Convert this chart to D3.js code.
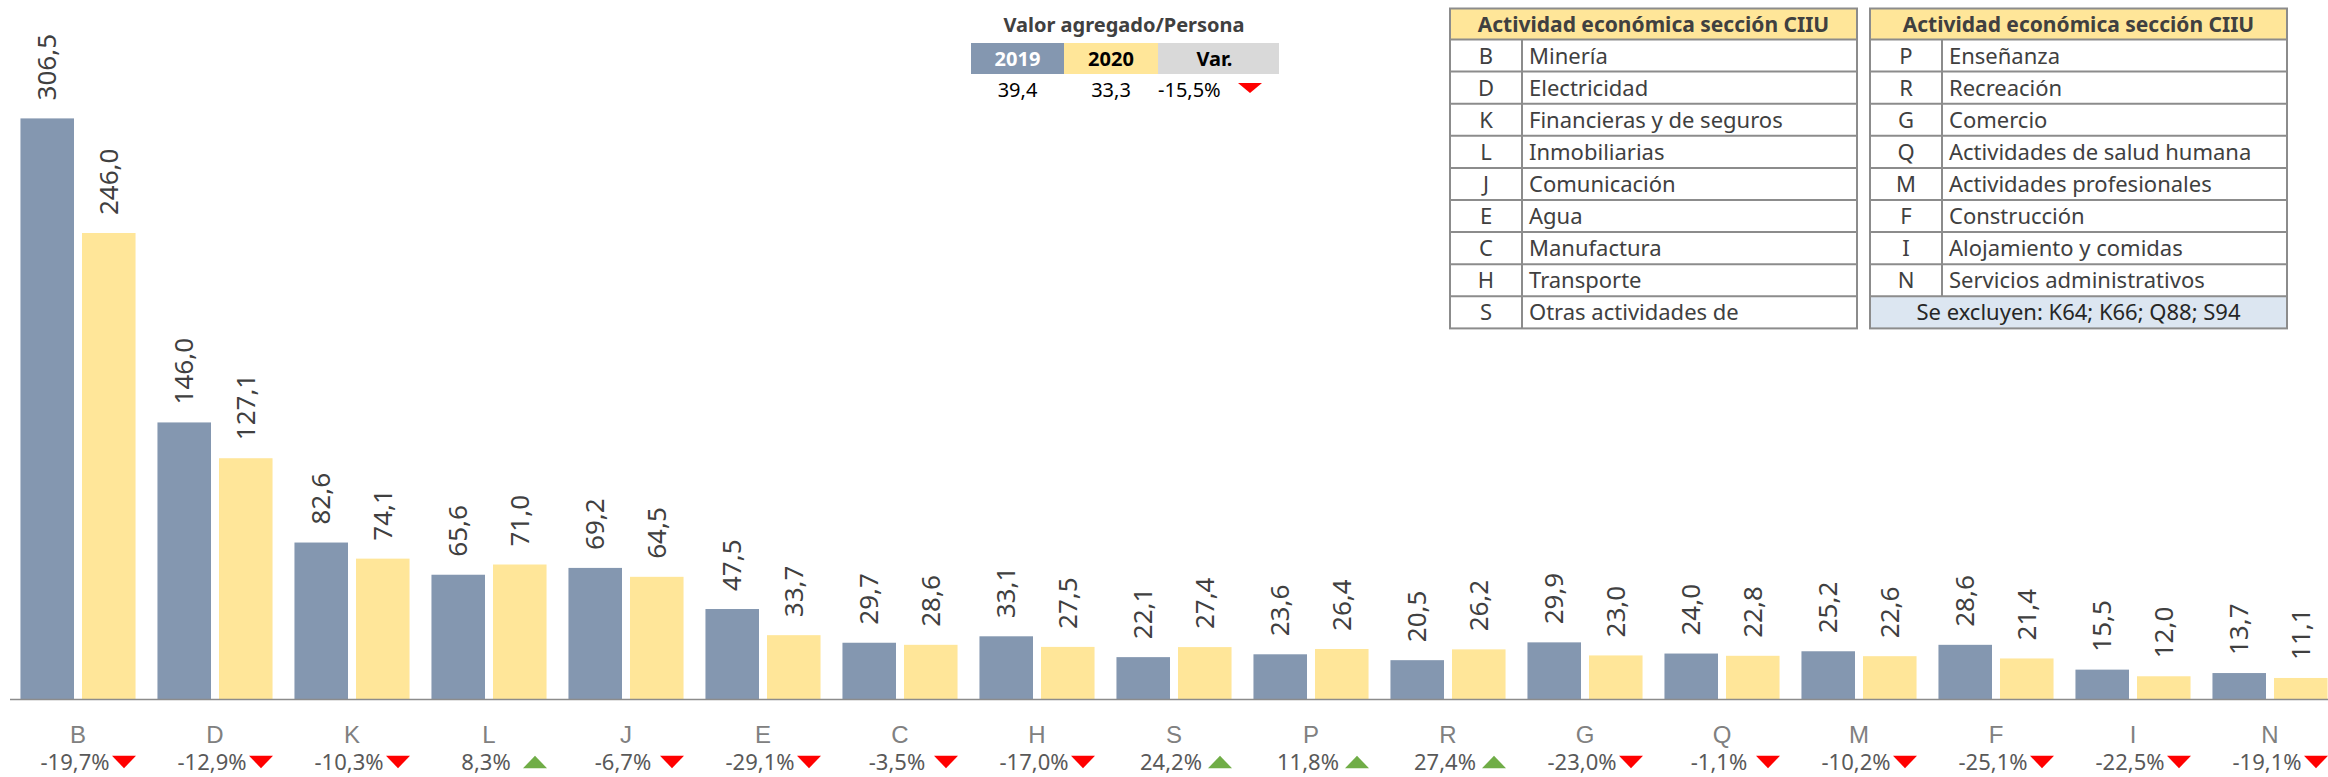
<!DOCTYPE html>
<html lang="es">
<head>
<meta charset="utf-8">
<title>Valor agregado por persona</title>
<script src="https://cdn.jsdelivr.net/npm/d3@7"></script>
<style>
  body { margin: 0; background: #fff; }
  svg { display: block; font-family: 'Century Gothic', 'Noto Sans', sans-serif; }
</style>
</head>
<body>
<div id="chart"></div>
<script>
// secciones CIIU, en el orden del gráfico
var categorias = ["B", "D", "K", "L", "J", "E", "C", "H", "S", "P", "R", "G", "Q", "M", "F", "I", "N"];
var series = ["2019", "2020"];
var valores2019 = [306.5, 146.0, 82.6, 65.6, 69.2, 47.5, 29.7, 33.1, 22.1, 23.6, 20.5, 29.9, 24.0, 25.2, 28.6, 15.5, 13.7];
var valores2020 = [246.0, 127.1, 74.1, 71.0, 64.5, 33.7, 28.6, 27.5, 27.4, 26.4, 26.2, 23.0, 22.8, 22.6, 21.4, 12.0, 11.1];
var variacion   = [-19.7, -12.9, -10.3, 8.3, -6.7, -29.1, -3.5, -17.0, 24.2, 11.8, 27.4, -23.0, -1.1, -10.2, -25.1, -22.5, -19.1];

// cuadro resumen
var resumenTitulo = "Valor agregado/Persona";
var resumenCols = ["2019", "2020", "Var."];
var resumenValores = [39.4, 33.3];
var resumenVar = -15.5;

// leyenda de secciones
var leyendaTitulo = "Actividad económica sección CIIU";
var leyenda1 = [["B", "Minería"], ["D", "Electricidad"], ["K", "Financieras y de seguros"], ["L", "Inmobiliarias"],
  ["J", "Comunicación"], ["E", "Agua"], ["C", "Manufactura"], ["H", "Transporte"], ["S", "Otras actividades de"]];
var leyenda2 = [["P", "Enseñanza"], ["R", "Recreación"], ["G", "Comercio"], ["Q", "Actividades de salud humana"],
  ["M", "Actividades profesionales"], ["F", "Construcción"], ["I", "Alojamiento y comidas"], ["N", "Servicios administrativos"]];
var nota = "Se excluyen: K64; K66; Q88; S94";

var W = 2328, H = 777;
var colores = { "2019": "#8497B0", "2020": "#FFE699" };
var rojo = "#FF0000", verde = "#70AD47";

var loc = d3.formatLocale({ decimal: ",", thousands: ".", grouping: [3], currency: ["", ""], minus: "-" });
var f1 = loc.format(".1f");

var svg = d3.select("#chart").append("svg")
  .attr("width", W)
  .attr("height", H);

// escalas
var x0 = d3.scaleBand().domain(categorias).range([9.5, 2338.5]).paddingInner(0.16).paddingOuter(0.08);
var x1 = d3.scaleBand().domain(series).range([0, x0.bandwidth()]).paddingInner(0.13);
var y = d3.scaleLinear().domain([0, 350]).range([699, 36]);

var datos = categorias.map(function(c, i) {
  return { cat: c, pct: variacion[i],
    vals: [{ s: "2019", v: valores2019[i] }, { s: "2020", v: valores2020[i] }] };
});

// triángulos de variación
function triangulo(sube, w, h) {
  var a = sube ? -1 : 1;
  return "M" + (-w / 2) + "," + (-a * h / 2) + "L" + (w / 2) + "," + (-a * h / 2) + "L0," + (a * h / 2) + "Z";
}

var grupos = svg.selectAll("g.grupo")
  .data(datos)
  .enter().append("g")
  .attr("class", "grupo")
  .attr("transform", function(d) { return "translate(" + x0(d.cat) + ",0)"; });

grupos.selectAll("rect")
  .data(function(d) { return d.vals; })
  .enter().append("rect")
  .attr("x", function(d) { return x1(d.s); })
  .attr("y", function(d) { return y(d.v); })
  .attr("width", x1.bandwidth())
  .attr("height", function(d) { return y(0) - y(d.v); })
  .attr("fill", function(d) { return colores[d.s]; });

grupos.selectAll("text.valor")
  .data(function(d) { return d.vals; })
  .enter().append("text")
  .attr("class", "valor")
  .attr("transform", function(d) {
    return "translate(" + (x1(d.s) + x1.bandwidth() / 2) + "," + (y(d.v) - 18) + ") rotate(-90)";
  })
  .attr("dy", "0.35em")
  .attr("font-size", 26)
  .attr("fill", "#404040")
  .text(function(d) { return f1(d.v); });

// eje x
var eje = svg.append("g")
  .attr("transform", "translate(0," + y(0) + ")")
  .call(d3.axisBottom(x0).tickSize(0).tickSizeOuter(0).tickPadding(27));
eje.select(".domain").attr("stroke", "#8c8c8c").attr("stroke-width", 1.5);
eje.selectAll("text")
  .attr("font-family", null)
  .attr("font-size", 24)
  .attr("fill", "#808080");

// variación porcentual bajo cada sección
var cx = function(d) { return x0(d.cat) + x0.bandwidth() / 2; };
svg.selectAll("text.pct")
  .data(datos)
  .enter().append("text")
  .attr("class", "pct")
  .attr("x", function(d) { return cx(d) - 3; })
  .attr("y", 770)
  .attr("text-anchor", "middle")
  .attr("font-size", 22)
  .attr("fill", "#595959")
  .text(function(d) { return f1(d.pct) + "%"; });

svg.selectAll("path.flecha")
  .data(datos)
  .enter().append("path")
  .attr("class", "flecha")
  .attr("transform", function(d) { return "translate(" + (cx(d) + 46) + ",762)"; })
  .attr("d", function(d) { return triangulo(d.pct > 0, 24, 12.6); })
  .attr("fill", function(d) { return d.pct > 0 ? verde : rojo; });

// cuadro resumen
var rx = d3.scaleOrdinal().domain(resumenCols).range([971, 1064, 1158]);
var rw = d3.scaleOrdinal().domain(resumenCols).range([93, 94, 121]);
var rfondo = d3.scaleOrdinal().domain(resumenCols).range([colores["2019"], colores["2020"], "#D9D9D9"]);
var rtexto = d3.scaleOrdinal().domain(resumenCols).range(["#ffffff", "#000000", "#000000"]);

svg.append("text")
  .attr("x", 1124).attr("y", 32)
  .attr("text-anchor", "middle")
  .attr("font-size", 20).attr("font-weight", "bold")
  .attr("fill", "#404040")
  .text(resumenTitulo);

var cab = svg.selectAll("g.rcab").data(resumenCols).enter().append("g").attr("class", "rcab");
cab.append("rect")
  .attr("x", function(d) { return rx(d); }).attr("y", 43)
  .attr("width", function(d) { return rw(d); }).attr("height", 31)
  .attr("fill", function(d) { return rfondo(d); });
cab.append("text")
  .attr("x", function(d) { return rx(d) + rw(d) / 2 - (d === "Var." ? 4 : 0); })
  .attr("y", 66)
  .attr("text-anchor", "middle")
  .attr("font-size", 20).attr("font-weight", "bold")
  .attr("fill", function(d) { return rtexto(d); })
  .text(function(d) { return d; });

svg.selectAll("text.rval")
  .data(resumenValores)
  .enter().append("text")
  .attr("class", "rval")
  .attr("x", function(d, i) { return rx(series[i]) + rw(series[i]) / 2; })
  .attr("y", 97)
  .attr("text-anchor", "middle")
  .attr("font-size", 20)
  .attr("fill", "#000")
  .text(function(d) { return f1(d); });

svg.append("text")
  .attr("x", rx("Var.")).attr("y", 97)
  .attr("font-size", 20)
  .attr("fill", "#000")
  .text(f1(resumenVar) + "%");
svg.append("path")
  .attr("transform", "translate(1250,88)")
  .attr("d", triangulo(resumenVar > 0, 24, 10))
  .attr("fill", resumenVar > 0 ? verde : rojo);

// tablas de leyenda
function tabla(x, w, filas, conNota) {
  var codW = 72, top = 8.5, cabH = 31, filaH = 32.1;
  var n = filas.length + (conNota ? 1 : 0);
  var fy = d3.scaleBand().domain(d3.range(n)).range([top + cabH, top + cabH + n * filaH]);
  var g = svg.append("g");

  g.append("rect").attr("x", x).attr("y", top).attr("width", w).attr("height", cabH).attr("fill", "#FFE699");
  if (conNota) {
    g.append("rect").attr("x", x).attr("y", fy(n - 1)).attr("width", w).attr("height", filaH).attr("fill", "#DCE6F1");
  }
  g.append("text")
    .attr("x", x + w / 2).attr("y", top + cabH / 2 + 8)
    .attr("text-anchor", "middle")
    .attr("font-size", 21).attr("font-weight", "bold")
    .attr("fill", "#404040")
    .text(leyendaTitulo);

  var fila = g.selectAll("g.fila").data(filas).enter().append("g")
    .attr("transform", function(d, i) { return "translate(0," + fy(i) + ")"; });
  fila.append("text")
    .attr("x", x + codW / 2).attr("y", filaH / 2 + 8)
    .attr("text-anchor", "middle")
    .attr("font-size", 22).attr("fill", "#404040")
    .text(function(d) { return d[0]; });
  fila.append("text")
    .attr("x", x + codW + 7).attr("y", filaH / 2 + 8)
    .attr("font-size", 22).attr("fill", "#404040")
    .text(function(d) { return d[1]; });

  if (conNota) {
    g.append("text")
      .attr("x", x + w / 2).attr("y", fy(n - 1) + filaH / 2 + 8)
      .attr("text-anchor", "middle")
      .attr("font-size", 22).attr("fill", "#262626")
      .text(nota);
  }

  // rejilla
  var lineas = g.append("g").attr("stroke", "#8c8c8c").attr("stroke-width", 2).attr("fill", "none");
  lineas.append("rect").attr("x", x).attr("y", top).attr("width", w).attr("height", cabH + n * filaH);
  lineas.selectAll("line.h").data(d3.range(n)).enter().append("line")
    .attr("x1", x).attr("x2", x + w)
    .attr("y1", function(i) { return fy(i); }).attr("y2", function(i) { return fy(i); });
  lineas.append("line")
    .attr("x1", x + codW).attr("x2", x + codW)
    .attr("y1", fy(0)).attr("y2", fy(filas.length - 1) + filaH);
}

tabla(1450, 407, leyenda1, false);
tabla(1870, 417, leyenda2, true);
</script>
</body>
</html>
